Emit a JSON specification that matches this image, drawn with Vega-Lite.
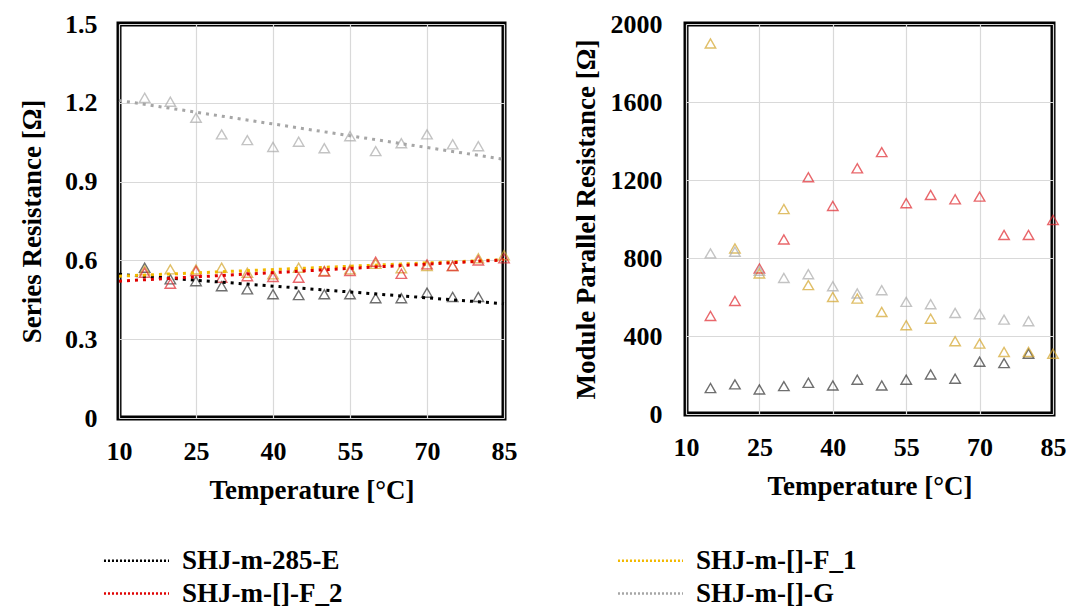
{
  "$schema": "https://vega.github.io/schema/vega-lite/v6.json",
  "padding": {"left": 16, "top": 8, "right": 0, "bottom": 0},
  "background": "white",
  "spacing": 49,
  "datasets": {
    "rs": [
      {"series": "SHJ-m-285-E", "t": 15, "v": 0.572}, {"series": "SHJ-m-285-E", "t": 20, "v": 0.528}, {"series": "SHJ-m-285-E", "t": 25, "v": 0.521}, {"series": "SHJ-m-285-E", "t": 30, "v": 0.502}, {"series": "SHJ-m-285-E", "t": 35, "v": 0.49}, {"series": "SHJ-m-285-E", "t": 40, "v": 0.471}, {"series": "SHJ-m-285-E", "t": 45, "v": 0.468}, {"series": "SHJ-m-285-E", "t": 50, "v": 0.471}, {"series": "SHJ-m-285-E", "t": 55, "v": 0.471}, {"series": "SHJ-m-285-E", "t": 60, "v": 0.456}, {"series": "SHJ-m-285-E", "t": 65, "v": 0.456}, {"series": "SHJ-m-285-E", "t": 70, "v": 0.477}, {"series": "SHJ-m-285-E", "t": 75, "v": 0.461}, {"series": "SHJ-m-285-E", "t": 80, "v": 0.461},
      {"series": "SHJ-m-[]-F_1", "t": 15, "v": 0.562}, {"series": "SHJ-m-[]-F_1", "t": 20, "v": 0.566}, {"series": "SHJ-m-[]-F_1", "t": 25, "v": 0.566}, {"series": "SHJ-m-[]-F_1", "t": 30, "v": 0.572}, {"series": "SHJ-m-[]-F_1", "t": 35, "v": 0.553}, {"series": "SHJ-m-[]-F_1", "t": 40, "v": 0.547}, {"series": "SHJ-m-[]-F_1", "t": 45, "v": 0.572}, {"series": "SHJ-m-[]-F_1", "t": 50, "v": 0.56}, {"series": "SHJ-m-[]-F_1", "t": 55, "v": 0.566}, {"series": "SHJ-m-[]-F_1", "t": 60, "v": 0.587}, {"series": "SHJ-m-[]-F_1", "t": 65, "v": 0.57}, {"series": "SHJ-m-[]-F_1", "t": 70, "v": 0.579}, {"series": "SHJ-m-[]-F_1", "t": 75, "v": 0.579}, {"series": "SHJ-m-[]-F_1", "t": 80, "v": 0.608}, {"series": "SHJ-m-[]-F_1", "t": 85, "v": 0.62},
      {"series": "SHJ-m-[]-F_2", "t": 15, "v": 0.553}, {"series": "SHJ-m-[]-F_2", "t": 20, "v": 0.511}, {"series": "SHJ-m-[]-F_2", "t": 25, "v": 0.56}, {"series": "SHJ-m-[]-F_2", "t": 30, "v": 0.534}, {"series": "SHJ-m-[]-F_2", "t": 35, "v": 0.54}, {"series": "SHJ-m-[]-F_2", "t": 40, "v": 0.537}, {"series": "SHJ-m-[]-F_2", "t": 45, "v": 0.534}, {"series": "SHJ-m-[]-F_2", "t": 50, "v": 0.558}, {"series": "SHJ-m-[]-F_2", "t": 55, "v": 0.56}, {"series": "SHJ-m-[]-F_2", "t": 60, "v": 0.595}, {"series": "SHJ-m-[]-F_2", "t": 65, "v": 0.549}, {"series": "SHJ-m-[]-F_2", "t": 70, "v": 0.585}, {"series": "SHJ-m-[]-F_2", "t": 75, "v": 0.579}, {"series": "SHJ-m-[]-F_2", "t": 80, "v": 0.6}, {"series": "SHJ-m-[]-F_2", "t": 85, "v": 0.608},
      {"series": "SHJ-m-[]-G", "t": 15, "v": 1.219}, {"series": "SHJ-m-[]-G", "t": 20, "v": 1.204}, {"series": "SHJ-m-[]-G", "t": 25, "v": 1.143}, {"series": "SHJ-m-[]-G", "t": 30, "v": 1.08}, {"series": "SHJ-m-[]-G", "t": 35, "v": 1.058}, {"series": "SHJ-m-[]-G", "t": 40, "v": 1.032}, {"series": "SHJ-m-[]-G", "t": 45, "v": 1.052}, {"series": "SHJ-m-[]-G", "t": 50, "v": 1.027}, {"series": "SHJ-m-[]-G", "t": 55, "v": 1.073}, {"series": "SHJ-m-[]-G", "t": 60, "v": 1.016}, {"series": "SHJ-m-[]-G", "t": 65, "v": 1.046}, {"series": "SHJ-m-[]-G", "t": 70, "v": 1.08}, {"series": "SHJ-m-[]-G", "t": 75, "v": 1.042}, {"series": "SHJ-m-[]-G", "t": 80, "v": 1.035}
    ],
    "trend": [
      {"series": "SHJ-m-285-E", "t": 10, "v": 0.547}, {"series": "SHJ-m-285-E", "t": 85, "v": 0.435},
      {"series": "SHJ-m-[]-F_1", "t": 10, "v": 0.54}, {"series": "SHJ-m-[]-F_1", "t": 85, "v": 0.603},
      {"series": "SHJ-m-[]-F_2", "t": 10, "v": 0.521}, {"series": "SHJ-m-[]-F_2", "t": 85, "v": 0.602},
      {"series": "SHJ-m-[]-G", "t": 10, "v": 1.209}, {"series": "SHJ-m-[]-G", "t": 85, "v": 0.985}
    ],
    "rp": [
      {"series": "SHJ-m-285-E", "t": 15, "v": 133}, {"series": "SHJ-m-285-E", "t": 20, "v": 152}, {"series": "SHJ-m-285-E", "t": 25, "v": 126}, {"series": "SHJ-m-285-E", "t": 30, "v": 143}, {"series": "SHJ-m-285-E", "t": 35, "v": 160}, {"series": "SHJ-m-285-E", "t": 40, "v": 146}, {"series": "SHJ-m-285-E", "t": 45, "v": 176}, {"series": "SHJ-m-285-E", "t": 50, "v": 146}, {"series": "SHJ-m-285-E", "t": 55, "v": 176}, {"series": "SHJ-m-285-E", "t": 60, "v": 203}, {"series": "SHJ-m-285-E", "t": 65, "v": 181}, {"series": "SHJ-m-285-E", "t": 70, "v": 268}, {"series": "SHJ-m-285-E", "t": 75, "v": 261}, {"series": "SHJ-m-285-E", "t": 80, "v": 309},
      {"series": "SHJ-m-[]-F_1", "t": 15, "v": 1900}, {"series": "SHJ-m-[]-F_1", "t": 20, "v": 849}, {"series": "SHJ-m-[]-F_1", "t": 25, "v": 721}, {"series": "SHJ-m-[]-F_1", "t": 30, "v": 1051}, {"series": "SHJ-m-[]-F_1", "t": 35, "v": 661}, {"series": "SHJ-m-[]-F_1", "t": 40, "v": 600}, {"series": "SHJ-m-[]-F_1", "t": 45, "v": 592}, {"series": "SHJ-m-[]-F_1", "t": 50, "v": 523}, {"series": "SHJ-m-[]-F_1", "t": 55, "v": 455}, {"series": "SHJ-m-[]-F_1", "t": 60, "v": 489}, {"series": "SHJ-m-[]-F_1", "t": 65, "v": 373}, {"series": "SHJ-m-[]-F_1", "t": 70, "v": 361}, {"series": "SHJ-m-[]-F_1", "t": 75, "v": 318}, {"series": "SHJ-m-[]-F_1", "t": 80, "v": 318}, {"series": "SHJ-m-[]-F_1", "t": 85, "v": 309},
      {"series": "SHJ-m-[]-F_2", "t": 15, "v": 503}, {"series": "SHJ-m-[]-F_2", "t": 20, "v": 580}, {"series": "SHJ-m-[]-F_2", "t": 25, "v": 746}, {"series": "SHJ-m-[]-F_2", "t": 30, "v": 895}, {"series": "SHJ-m-[]-F_2", "t": 35, "v": 1214}, {"series": "SHJ-m-[]-F_2", "t": 40, "v": 1067}, {"series": "SHJ-m-[]-F_2", "t": 45, "v": 1260}, {"series": "SHJ-m-[]-F_2", "t": 50, "v": 1343}, {"series": "SHJ-m-[]-F_2", "t": 55, "v": 1081}, {"series": "SHJ-m-[]-F_2", "t": 60, "v": 1123}, {"series": "SHJ-m-[]-F_2", "t": 65, "v": 1101}, {"series": "SHJ-m-[]-F_2", "t": 70, "v": 1115}, {"series": "SHJ-m-[]-F_2", "t": 75, "v": 918}, {"series": "SHJ-m-[]-F_2", "t": 80, "v": 918}, {"series": "SHJ-m-[]-F_2", "t": 85, "v": 995},
      {"series": "SHJ-m-[]-G", "t": 15, "v": 824}, {"series": "SHJ-m-[]-G", "t": 20, "v": 832}, {"series": "SHJ-m-[]-G", "t": 25, "v": 735}, {"series": "SHJ-m-[]-G", "t": 30, "v": 698}, {"series": "SHJ-m-[]-G", "t": 35, "v": 717}, {"series": "SHJ-m-[]-G", "t": 40, "v": 655}, {"series": "SHJ-m-[]-G", "t": 45, "v": 618}, {"series": "SHJ-m-[]-G", "t": 50, "v": 635}, {"series": "SHJ-m-[]-G", "t": 55, "v": 575}, {"series": "SHJ-m-[]-G", "t": 60, "v": 563}, {"series": "SHJ-m-[]-G", "t": 65, "v": 518}, {"series": "SHJ-m-[]-G", "t": 70, "v": 512}, {"series": "SHJ-m-[]-G", "t": 75, "v": 484}, {"series": "SHJ-m-[]-G", "t": 80, "v": 476}
    ]
  },
  "hconcat": [
    {
      "width": 385,
      "height": 394,
      "layer": [
        {
          "data": {"name": "rs"},
          "mark": {"type": "point", "shape": "triangle-up", "filled": false, "size": 110, "strokeWidth": 1.4},
          "encoding": {
            "x": {"field": "t", "type": "quantitative", "scale": {"domain": [10, 85], "nice": false},
              "axis": {"title": "Temperature [°C]", "values": [10, 25, 40, 55, 70, 85], "labelFlush": false, "labelPadding": 20, "titlePadding": 13}},
            "y": {"field": "v", "type": "quantitative", "scale": {"domain": [0, 1.5], "nice": false},
              "axis": {"title": "Series Resistance [Ω]", "values": [0, 0.3, 0.6, 0.9, 1.2, 1.5], "labelExpr": "datum.value == 0 ? '0' : format(datum.value, '.1f')", "labelPadding": 22, "titlePadding": 18}},
            "stroke": {"field": "series", "type": "nominal", "legend": null,
              "scale": {"domain": ["SHJ-m-[]-G", "SHJ-m-[]-F_2", "SHJ-m-[]-F_1", "SHJ-m-285-E"], "range": ["#ABABAB", "#E0282E", "#D4A52A", "#333333"]}}
          }
        },
        {
          "data": {"name": "trend"},
          "mark": {"type": "line", "strokeWidth": 3, "strokeDash": [3, 5]},
          "encoding": {
            "x": {"field": "t", "type": "quantitative"},
            "y": {"field": "v", "type": "quantitative"},
            "color": {"field": "series", "type": "nominal",
              "scale": {"domain": ["SHJ-m-285-E", "SHJ-m-[]-F_2", "SHJ-m-[]-F_1", "SHJ-m-[]-G"], "range": ["#000000", "#E00000", "#F2B800", "#A6A6A6"]},
              "legend": {"orient": "none", "legendX": 4, "legendY": 523, "columns": 2, "title": null,
                "symbolType": "M-3,0H3", "symbolSize": 470, "symbolStrokeWidth": 2.5, "symbolDash": [2, 2],
                "labelOffset": 32, "columnPadding": 269, "rowPadding": 5, "padding": 0,
                "labelFont": "Liberation Serif", "labelFontSize": 27, "labelFontWeight": "bold", "labelColor": "black", "labelLimit": 400}}
          }
        }
      ]
    },
    {
      "width": 367,
      "height": 390,
      "data": {"name": "rp"},
      "mark": {"type": "point", "shape": "triangle-up", "filled": false, "size": 110, "strokeWidth": 1.4},
      "encoding": {
        "x": {"field": "t", "type": "quantitative", "scale": {"domain": [10, 85], "nice": false},
          "axis": {"title": "Temperature [°C]", "values": [10, 25, 40, 55, 70, 85], "labelFlush": false, "labelPadding": 20, "titlePadding": 13}},
        "y": {"field": "v", "type": "quantitative", "scale": {"domain": [0, 2000], "nice": false},
          "axis": {"title": "Module Parallel Resistance [Ω]", "values": [0, 400, 800, 1200, 1600, 2000], "format": "d", "labelPadding": 24, "titlePadding": 10}},
        "stroke": {"field": "series", "type": "nominal", "legend": null,
          "scale": {"domain": ["SHJ-m-[]-G", "SHJ-m-[]-F_2", "SHJ-m-[]-F_1", "SHJ-m-285-E"], "range": ["#ABABAB", "#E0282E", "#D4A52A", "#333333"]}}
      }
    }
  ],
  "resolve": {"scale": {"stroke": "shared"}},
  "config": {
    "font": "Liberation Serif",
    "view": {"stroke": "black", "strokeWidth": 5},
    "axis": {
      "labelFont": "Liberation Serif", "labelFontSize": 26, "labelFontWeight": "bold", "labelColor": "black",
      "titleFont": "Liberation Serif", "titleFontSize": 27, "titleFontWeight": "bold", "titleColor": "black",
      "domain": false, "ticks": false, "gridColor": "#d9d9d9", "gridWidth": 1.2
    }
  }
}
